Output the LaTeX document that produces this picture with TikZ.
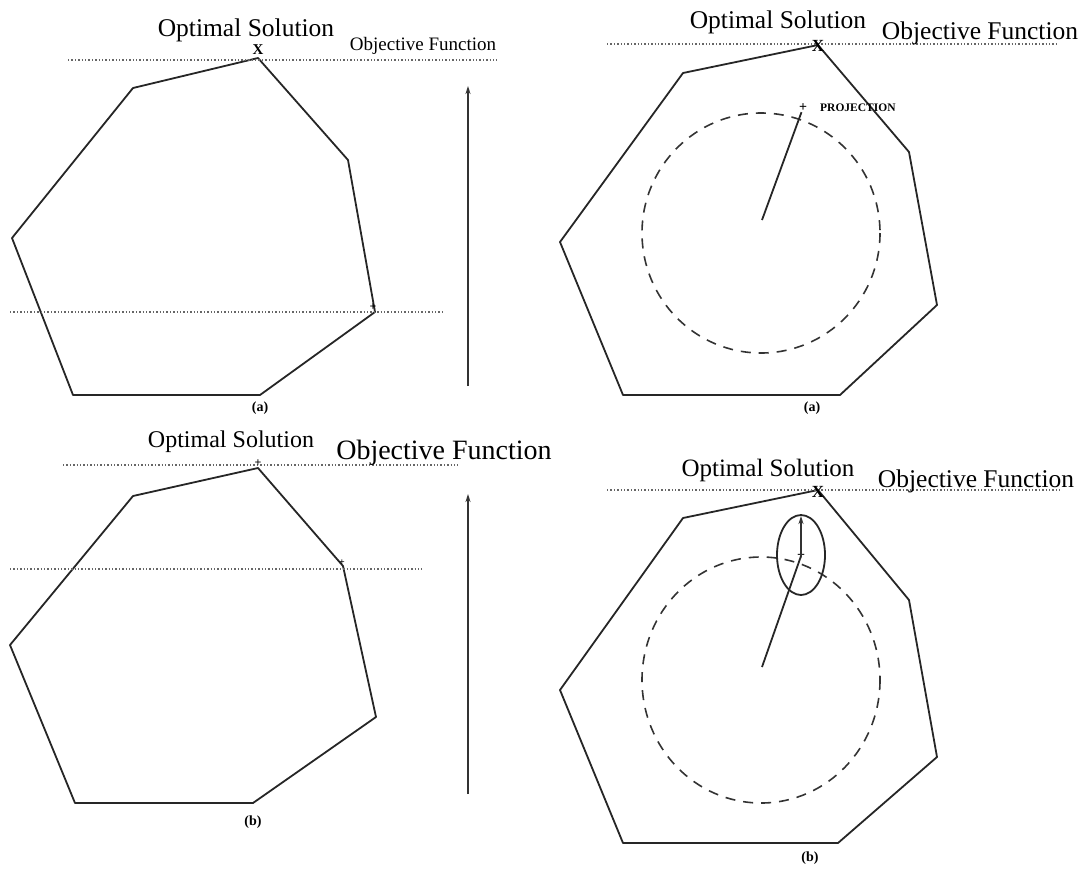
\documentclass[tikz,border=0pt]{standalone}
\usepackage{fontspec}
\setmainfont{Liberation Serif}
\usetikzlibrary{arrows.meta}
\begin{document}
\begin{tikzpicture}[x=1pt,y=-1pt,
  poly/.style={draw=black!85,line width=1.8pt,line join=round},
  objline/.style={draw=black!60,line width=1.4pt,dotted},
  dircirc/.style={draw=black!80,line width=1.6pt,dash pattern=on 10pt off 8pt},
  uparrow/.style={draw=black!80,line width=1.6pt,-{Stealth[length=8pt,width=5pt]}},
  bigtxt/.style={inner sep=0pt,text=black},
  captxt/.style={inner sep=0pt,font=\fontsize{14}{14}\selectfont\bfseries},
  xmark/.style={inner sep=0pt,font=\fontsize{15}{15}\selectfont\bfseries}]
\useasboundingbox (0,0) rectangle (1086,871);
% ---------- top-left (a) ----------
\coordinate (A1) at (258,58); \coordinate (A2) at (348,160); \coordinate (A3) at (375,312);
\coordinate (A4) at (260,395); \coordinate (A5) at (73,395); \coordinate (A6) at (12,238);
\coordinate (A7) at (133,88);
\draw[poly] (A1)--(A2)--(A3)--(A4)--(A5)--(A6)--(A7)--cycle;
\coordinate (la1) at (68,60); \coordinate (la2) at (497,60);
\draw[objline] (la1)--(la2);
\coordinate (lb1) at (10,312); \coordinate (lb2) at (442,312);
\draw[objline] (lb1)--(lb2);
\coordinate (ar1) at (468,386); \coordinate (ar2) at (468,86);
\draw[uparrow] (ar1)--(ar2);
\node[bigtxt,font=\fontsize{25.5}{25.5}\selectfont] (optA) at (246,30) {Optimal Solution};
\node[bigtxt,font=\fontsize{19}{19}\selectfont] (objA) at (423,46) {Objective Function};
\node[xmark] (xA) at (258,50) {X};
\node[inner sep=0pt,font=\fontsize{12}{12}\selectfont\bfseries] (pA) at (373,307) {+};
\node[captxt] (capA) at (260,408) {(a)};
% ---------- top-right (a) ----------
\coordinate (B1) at (818,45); \coordinate (B2) at (909,152); \coordinate (B3) at (937,305);
\coordinate (B4) at (840,395); \coordinate (B5) at (623,395); \coordinate (B6) at (560,242);
\coordinate (B7) at (683,73);
\draw[poly] (B1)--(B2)--(B3)--(B4)--(B5)--(B6)--(B7)--cycle;
\coordinate (lc1) at (607,44); \coordinate (lc2) at (1057,44);
\draw[objline] (lc1)--(lc2);
\draw[dircirc] (761,233) ellipse[x radius=119,y radius=120];
\coordinate (cB) at (762,220);
\node[inner sep=0pt,font=\fontsize{14}{14}\selectfont\bfseries] (prB) at (803,108) {+};
\draw[draw=black!85,line width=1.8pt] (cB)--(prB);
\node[anchor=west,inner sep=0pt,font=\fontsize{11.5}{11.5}\selectfont\bfseries] (projB) at (820,108) {PROJECTION};
\node[bigtxt,font=\fontsize{25.5}{25.5}\selectfont] (optB) at (778,22) {Optimal Solution};
\node[bigtxt,font=\fontsize{25.5}{25.5}\selectfont] (objB) at (980,33) {Objective Function};
\node[xmark,font=\fontsize{17}{17}\selectfont\bfseries] (xB) at (818,46) {X};
\node[captxt] (capB) at (812,408) {(a)};
% ---------- bottom-left (b) ----------
\coordinate (C1) at (258,468); \coordinate (C2) at (343,566); \coordinate (C3) at (376,717);
\coordinate (C4) at (253,803); \coordinate (C5) at (75,803); \coordinate (C6) at (10,645);
\coordinate (C7) at (133,496);
\draw[poly] (C1)--(C2)--(C3)--(C4)--(C5)--(C6)--(C7)--cycle;
\coordinate (ld1) at (63,465); \coordinate (ld2) at (458,465);
\draw[objline] (ld1)--(ld2);
\coordinate (le1) at (10,569); \coordinate (le2) at (422,569);
\draw[objline] (le1)--(le2);
\coordinate (ar3) at (468,794); \coordinate (ar4) at (468,494);
\draw[uparrow] (ar3)--(ar4);
\node[bigtxt,font=\fontsize{24}{24}\selectfont] (optC) at (231,442) {Optimal Solution};
\node[bigtxt,font=\fontsize{28}{28}\selectfont] (objC) at (444,453) {Objective Function};
\node[inner sep=0pt,font=\fontsize{12}{12}\selectfont\bfseries] (xC) at (258,463) {+};
\node[inner sep=0pt,font=\fontsize{10}{10}\selectfont\bfseries] (pC) at (342,563) {+};
\node[captxt] (capC) at (253,822) {(b)};
% ---------- bottom-right (b) ----------
\coordinate (D1) at (818,490); \coordinate (D2) at (909,600); \coordinate (D3) at (937,757);
\coordinate (D4) at (838,843); \coordinate (D5) at (623,843); \coordinate (D6) at (560,690);
\coordinate (D7) at (683,518);
\draw[poly] (D1)--(D2)--(D3)--(D4)--(D5)--(D6)--(D7)--cycle;
\coordinate (lf1) at (607,490); \coordinate (lf2) at (1060,490);
\draw[objline] (lf1)--(lf2);
\draw[dircirc] (761,680) ellipse[x radius=119,y radius=123];
\draw[draw=black!85,line width=1.8pt] (801,555) ellipse[x radius=24,y radius=40];
\coordinate (cD) at (762,667);
\node[inner sep=0pt,font=\fontsize{14}{14}\selectfont\bfseries] (prD) at (801,556) {+};
\draw[draw=black!85,line width=1.8pt] (cD)--(prD.center);
\coordinate (topD) at (801,516);
\draw[uparrow,line width=1.3pt] (prD.center)--(topD);
\node[bigtxt,font=\fontsize{25}{25}\selectfont] (optD) at (768,470) {Optimal Solution};
\node[bigtxt,font=\fontsize{25.5}{25.5}\selectfont] (objD) at (976,481) {Objective Function};
\node[xmark,font=\fontsize{17}{17}\selectfont\bfseries] (xD) at (818,492) {X};
\node[captxt] (capD) at (810,858) {(b)};
\end{tikzpicture}
\end{document}
